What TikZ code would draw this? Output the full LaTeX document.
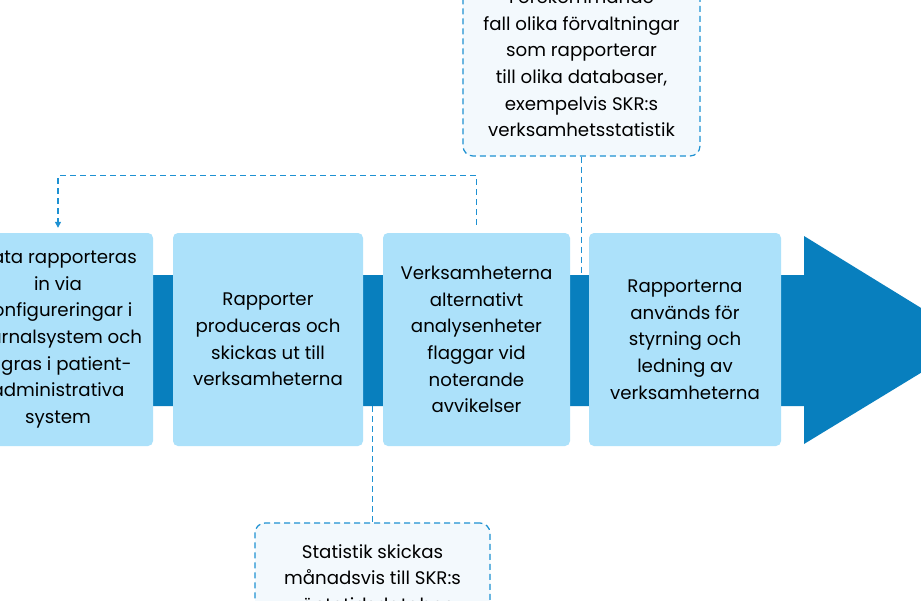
\documentclass[tikz,border=0pt]{standalone}
\usepackage{fontspec}
\setmainfont{Poppins}
\usetikzlibrary{arrows.meta}
\definecolor{boxblue}{RGB}{172,225,250}
\definecolor{arrowblue}{RGB}{8,127,190}
\definecolor{dashblue}{RGB}{30,145,210}
\definecolor{notefill}{RGB}{243,249,253}
\tikzset{
  stepbox/.style={fill=boxblue, rounded corners=5pt, minimum height=213pt, align=center,
    inner sep=0pt, font=\fontsize{18.2}{26.7}\selectfont, text=black},
  notebox/.style={draw=dashblue, fill=notefill, line width=1.2pt, dash pattern=on 6pt off 4pt,
    rounded corners=10pt, align=center, inner sep=0pt, font=\fontsize{18.2}{26.7}\selectfont},
  dconn/.style={draw=dashblue, line width=1.2pt, dash pattern=on 6pt off 4pt}
}
\begin{document}
\begin{tikzpicture}[x=1pt,y=-1pt]
\clip (0,0) rectangle (921,600);
\fill[white] (0,0) rectangle (921,600);
% big arrow
\fill[arrowblue] (-50,275) -- (804,275) -- (804,236) -- (974,340.5) -- (804,444) -- (804,406) -- (-50,406) -- cycle;
\coordinate (bandtop) at (0,275);
\coordinate (bandbot) at (0,406);
% steps
\node[stepbox, minimum width=190pt] (b1) at (58,339.5) {Data rapporteras\\in via\\konfigureringar i\\journalsystem och\\lagras i patient-\\administrativa\\system};
\node[stepbox, minimum width=190pt] (b2) at (268,339.5) {Rapporter\\produceras och\\skickas ut till\\verksamheterna};
\node[stepbox, minimum width=187pt] (b3) at (476.5,339.5) {Verksamheterna\\alternativt\\analysenheter\\flaggar vid\\noterande\\avvikelser};
\node[stepbox, minimum width=192pt] (b4) at (685,339.5) {Rapporterna\\används för\\styrning och\\ledning av\\verksamheterna};
% notes
\node[notebox, minimum width=237pt, minimum height=185pt] (top) at (581.5,63.5) {Förekommande\\fall olika förvaltningar\\som rapporterar\\till olika databaser,\\exempelvis SKR:s\\verksamhetsstatistik};
\node[notebox, minimum width=235pt, minimum height=110pt] (bot) at (372.5,578) {Statistik skickas\\månadsvis till SKR:s\\väntetidsdatabas};
% connectors
\draw[dconn] (top.south) -- (top.south |- bandtop);
\draw[dconn] (bot.north |- bandbot) -- (bot.north);
\draw[dconn, -{Triangle[length=6pt,width=6pt]}] ([yshift=8pt]b3.north) -- ++(0,-49) -| ([yshift=5pt]b1.north);
\end{tikzpicture}
\end{document}
